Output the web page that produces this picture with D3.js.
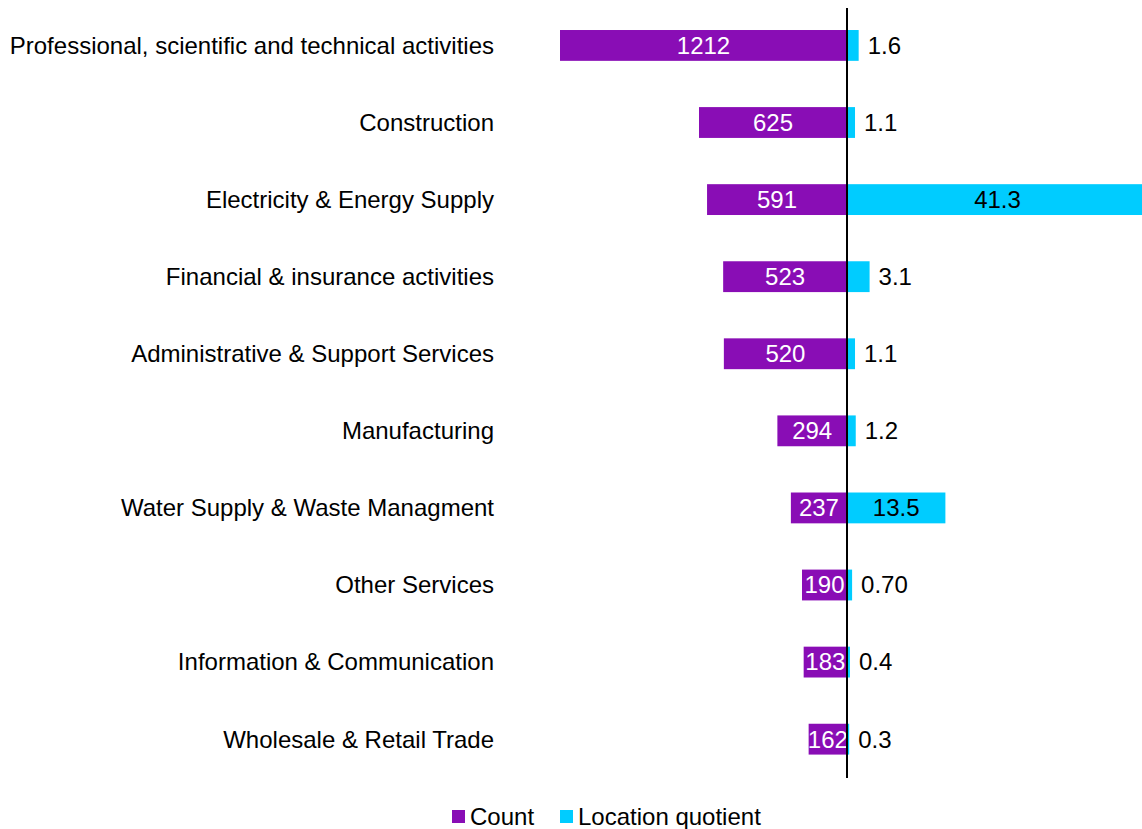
<!DOCTYPE html>
<meta charset="utf-8">
<head>
<style>
body { margin: 0; background: #fff; }
text { font-family: "Liberation Sans", Arial, sans-serif; font-size: 24px; }
</style>
</head>
<body>
<script src="https://d3js.org/d3.v7.min.js"></script>
<script>

// data
var sectors = [
  "Professional, scientific and technical activities",
  "Construction",
  "Electricity & Energy Supply",
  "Financial & insurance activities",
  "Administrative & Support Services",
  "Manufacturing",
  "Water Supply & Waste Managment",
  "Other Services",
  "Information & Communication",
  "Wholesale & Retail Trade"
];
var counts = [1212, 625, 591, 523, 520, 294, 237, 190, 183, 162];
var quotients = [1.6, 1.1, 41.3, 3.1, 1.1, 1.2, 13.5, 0.70, 0.4, 0.3];
var quotientLabels = ["1.6", "1.1", "41.3", "3.1", "1.1", "1.2", "13.5", "0.70", "0.4", "0.3"];
var seriesNames = ["Count", "Location quotient"];

var width = 1142, height = 829;
var axisX = 847;
var purple = "#890db5", cyan = "#00ccff";

var svg = d3.select("body").append("svg")
    .attr("width", width)
    .attr("height", height);

// y bands for the sectors
var y = d3.scaleBand()
  .domain(sectors)
  .range([14.6, 770])
  .paddingInner(0.6)
  .paddingOuter(0.2);

// count goes left of the axis, quotient goes right
var xCount = d3.scaleLinear()
  .domain([0, 1212])
  .range([axisX, 560]);

var xLq = d3.scaleLinear()
  .domain([0, 41.3])
  .range([axisX, 1148]);

var rows = sectors.map(function(s, i) {
  return {name: s, count: counts[i], lq: quotients[i], lqLabel: quotientLabels[i]};
});

// count bars
svg.selectAll(".count")
    .data(rows)
  .enter().append("rect")
    .attr("class", "count")
    .attr("x", function(d) { return xCount(d.count); })
    .attr("y", function(d) { return y(d.name); })
    .attr("width", function(d) { return axisX - xCount(d.count); })
    .attr("height", y.bandwidth())
    .attr("fill", purple);

// location quotient bars
svg.selectAll(".lq")
    .data(rows)
  .enter().append("rect")
    .attr("class", "lq")
    .attr("x", axisX)
    .attr("y", function(d) { return y(d.name); })
    .attr("width", function(d) { return xLq(d.lq) - axisX; })
    .attr("height", y.bandwidth())
    .attr("fill", cyan);

// count labels, white in the middle of the bar
svg.selectAll(".countLabel")
    .data(rows)
  .enter().append("text")
    .attr("x", function(d) { return (xCount(d.count) + axisX) / 2; })
    .attr("y", function(d) { return y(d.name) + y.bandwidth() / 2; })
    .attr("dy", "0.35em")
    .attr("text-anchor", "middle")
    .attr("fill", "#fff")
    .text(function(d) { return d.count; });

// quotient labels: inside for the big ones, outside otherwise
svg.selectAll(".lqLabel")
    .data(rows)
  .enter().append("text")
    .attr("x", function(d) {
      return d.lq > 10 ? (axisX + xLq(d.lq)) / 2 : xLq(d.lq) + 9;
    })
    .attr("y", function(d) { return y(d.name) + y.bandwidth() / 2; })
    .attr("dy", "0.35em")
    .attr("text-anchor", function(d) { return d.lq > 10 ? "middle" : "start"; })
    .attr("fill", "#000")
    .text(function(d) { return d.lqLabel; });

// category labels
svg.selectAll(".cat")
    .data(rows)
  .enter().append("text")
    .attr("x", 494)
    .attr("y", function(d) { return y(d.name) + y.bandwidth() / 2; })
    .attr("dy", "0.35em")
    .attr("text-anchor", "end")
    .attr("fill", "#000")
    .text(function(d) { return d.name; });

// vertical axis line
svg.append("line")
    .attr("x1", axisX).attr("x2", axisX)
    .attr("y1", 8).attr("y2", 778)
    .attr("stroke", "#000")
    .attr("stroke-width", 2);

// legend
var legendX = [452, 560];
var legendColors = [purple, cyan];
var legend = svg.selectAll(".legend")
    .data(seriesNames)
  .enter().append("g")
    .attr("transform", function(d, i) { return "translate(" + legendX[i] + ",810)"; });
legend.append("rect")
    .attr("width", 13).attr("height", 13)
    .attr("fill", function(d, i) { return legendColors[i]; });
legend.append("text")
    .attr("x", 18)
    .attr("y", 6.5)
    .attr("dy", "0.35em")
    .text(function(d) { return d; });

</script>
</body>
